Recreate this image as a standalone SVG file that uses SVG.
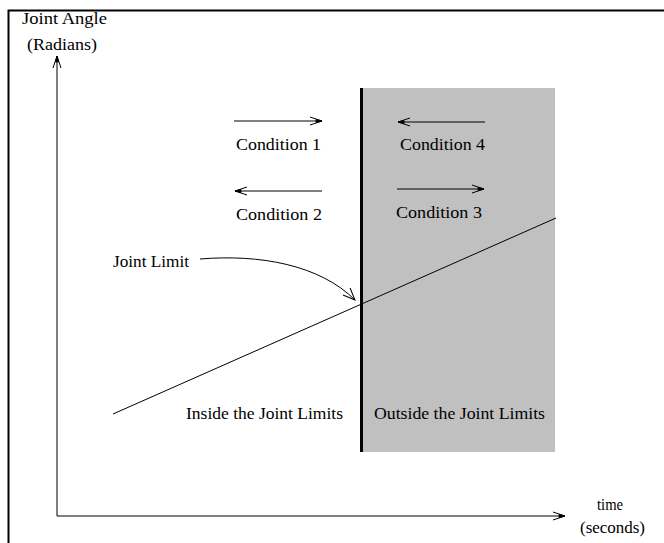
<svg xmlns="http://www.w3.org/2000/svg" width="664" height="543" viewBox="0 0 664 543">
<defs>
<style>
.t{font-family:"Liberation Serif","Times New Roman",serif;font-size:17px;fill:#000}
.ln{stroke:#000;stroke-width:1;fill:none}
</style>
<marker id="ah" markerUnits="userSpaceOnUse" markerWidth="16" markerHeight="12" viewBox="-14 -6 16 12" refX="0" refY="0" orient="auto">
<path d="M-12,-4 L0,0 L-12,4" fill="none" stroke="#000" stroke-width="1"/>
<path d="M-6,-1.6 L0,0 L-6,1.6 Z" fill="#000" stroke="#000" stroke-width="0.8"/>
</marker>
<marker id="oh" markerUnits="userSpaceOnUse" markerWidth="16" markerHeight="14" viewBox="-14 -7 16 14" refX="0" refY="0" orient="auto">
<path d="M-12,-5 L0,0 L-12,5" fill="none" stroke="#000" stroke-width="1"/>
</marker>
</defs>
<rect x="0" y="0" width="664" height="543" fill="#fff"/>
<g id="frame">
<path d="M8.5,543 L8.5,10.5 L664,10.5" fill="none" stroke="#000" stroke-width="2"/>
</g>
<g id="outside-region">
<rect x="362" y="88" width="193" height="364" fill="#c0c0c0"/>
<line x1="361.5" y1="88" x2="361.5" y2="452" stroke="#000" stroke-width="3"/>
<text class="t" x="374" y="419" textLength="171" lengthAdjust="spacingAndGlyphs">Outside the Joint Limits</text>
</g>
<g id="inside-region">
<text class="t" x="186" y="419" textLength="157" lengthAdjust="spacingAndGlyphs">Inside the Joint Limits</text>
</g>
<g id="axes">
<line class="ln" x1="57" y1="516" x2="57" y2="56" marker-end="url(#ah)"/>
<line class="ln" x1="57" y1="516" x2="565" y2="516" marker-end="url(#ah)"/>
<text class="t" x="22" y="24" textLength="85" lengthAdjust="spacingAndGlyphs">Joint Angle</text>
<text class="t" x="27" y="50" textLength="70" lengthAdjust="spacingAndGlyphs">(Radians)</text>
<text class="t" x="597" y="510" textLength="26" lengthAdjust="spacingAndGlyphs">time</text>
<text class="t" x="580" y="533" textLength="65" lengthAdjust="spacingAndGlyphs">(seconds)</text>
</g>
<g id="joint-limit-line">
<line class="ln" x1="113" y1="414" x2="556" y2="218"/>
</g>
<g id="joint-limit-label">
<text class="t" x="113" y="267" textLength="76" lengthAdjust="spacingAndGlyphs">Joint Limit</text>
</g>
<g id="condition-1">
<line class="ln" x1="234" y1="121" x2="322" y2="121" marker-end="url(#ah)"/>
<text class="t" x="236" y="150" textLength="85" lengthAdjust="spacingAndGlyphs">Condition 1</text>
</g>
<g id="condition-2">
<line class="ln" x1="322" y1="191" x2="235" y2="191" marker-end="url(#ah)"/>
<text class="t" x="236" y="220" textLength="86" lengthAdjust="spacingAndGlyphs">Condition 2</text>
</g>
<g id="condition-3">
<line class="ln" x1="397" y1="189" x2="484" y2="189" marker-end="url(#ah)"/>
<text class="t" x="396" y="218" textLength="86" lengthAdjust="spacingAndGlyphs">Condition 3</text>
</g>
<g id="condition-4">
<line class="ln" x1="485" y1="122" x2="398" y2="122" marker-end="url(#ah)"/>
<text class="t" x="400" y="150" textLength="85" lengthAdjust="spacingAndGlyphs">Condition 4</text>
</g>
<g id="connectors">
<path class="ln" d="M200,259 C260,254 320,265 355,300" marker-end="url(#oh)"/>
</g>
</svg>
